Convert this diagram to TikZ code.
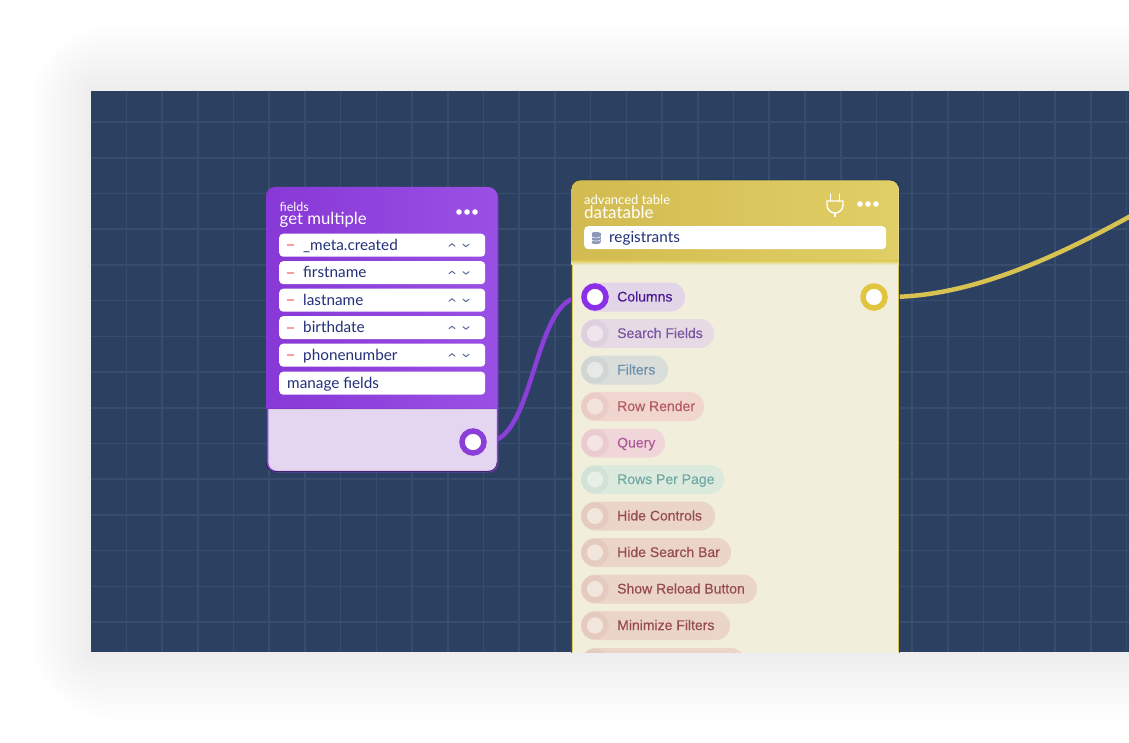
\documentclass[tikz,border=0pt]{standalone}
\usepackage{fontspec}
\setmainfont{Lato}
\newfontfamily\pillfont[FakeBold=0.3]{Liberation Sans}
\pgfdeclarelayer{panelbg}
\pgfdeclarelayer{links}
\pgfsetlayers{panelbg,links,main}
\definecolor{panelblue}{HTML}{2C4161}
\definecolor{gridblue}{HTML}{384D6E}
\definecolor{purpleA}{HTML}{8838D6}
\definecolor{purpleB}{HTML}{9A50E4}
\definecolor{purpleLine}{HTML}{8A3FD8}
\definecolor{lavender}{HTML}{E4D6F1}
\definecolor{yellowA}{HTML}{D2BB50}
\definecolor{yellowB}{HTML}{E0CF66}
\definecolor{yellowLine}{HTML}{D8C252}
\definecolor{yellowPort}{HTML}{E2C53F}
\definecolor{cream}{HTML}{F2EEDC}
\definecolor{navytext}{HTML}{233078}
\definecolor{minusred}{HTML}{F7A0A0}
\definecolor{caretblue}{HTML}{5A6A9A}
\definecolor{columnsring}{HTML}{8B2FE8}
\definecolor{columnspill}{HTML}{E3D5E8}
\definecolor{columnstext}{HTML}{4A1A96}
\tikzset{
  x=1pt,y=-1pt,
  fieldbox/.style={fill=white,rounded corners=4pt,anchor=north west,inner sep=0pt,minimum height=23pt},
  fieldtext/.style={anchor=west,inner sep=0pt,text=navytext,text height=10.5pt,text depth=3.5pt,yshift=-1.5pt,font=\fontsize{15.3}{17}\selectfont},
  pilltext/.style={anchor=west,inner sep=0pt,text height=10pt,text depth=3pt,yshift=-1pt,font=\pillfont\fontsize{14}{16}\selectfont},
  whitetext/.style={anchor=west,inner sep=0pt,text=white},
  portring/.style={circle,inner sep=0pt,minimum size=22pt,fill=white,line width=5.5pt},
  link/.style={line width=4.5pt,line cap=round},
  tinyline/.style={line width=1pt,line cap=round,line join=round},
}
\newcommand{\fieldrow}[3]{%
  \node[fieldbox,minimum width=206pt] (#1) at (279,#2) {};
  \draw[minusred,line width=1.8pt] ([xshift=7.5pt]#1.west) -- ([xshift=15pt]#1.west);
  \node[fieldtext] at ([xshift=24pt]#1.west) {#3};
  \draw[tinyline,caretblue] ([xshift=170pt,yshift=-1pt]#1.west) -- ([xshift=173pt,yshift=1.5pt]#1.west) -- ([xshift=176pt,yshift=-1pt]#1.west);
  \draw[tinyline,caretblue] ([xshift=184pt,yshift=1pt]#1.west) -- ([xshift=187pt,yshift=-1.5pt]#1.west) -- ([xshift=190pt,yshift=1pt]#1.west);
}
% name, y, right end, pill, text, ring, centre, label
\newcommand{\pillrow}[8]{%
  \definecolor{pillc}{HTML}{#4}\definecolor{textc}{HTML}{#5}\definecolor{ringc}{HTML}{#6}\definecolor{centc}{HTML}{#7}%
  \path[fill=pillc,rounded corners=14pt] (581,#2-14.5) rectangle (#3,#2+14.5);
  \node[portring,fill=centc,draw=ringc] (#1) at (595,#2) {};
  \node[pilltext,text=textc] at (617,#2) {#8};
}
\begin{document}
\begin{tikzpicture}
\useasboundingbox (0,0) rectangle (1129,743);
\begin{pgfonlayer}{panelbg}
  \fill[white] (0,0) rectangle (1129,743);
  \foreach \i in {1,...,17}{
    \fill[black,opacity=.004,rounded corners=\i*5pt] (91-\i*3.6,91-\i*4) rectangle (1300,652+\i*4);
  }
  \fill[panelblue] (91,91) rectangle (1129,652);
  \begin{scope}
    \clip (91,91) rectangle (1129,652);
    \foreach \k in {0,...,28}{
      \draw[gridblue,line width=1.6pt] (126.3+\k*35.72,91) -- (126.3+\k*35.72,652);
    }
    \foreach \k in {0,...,14}{
      \draw[gridblue,line width=1.6pt] (91,122+\k*35.72) -- (1129,122+\k*35.72);
    }
  \end{scope}
\end{pgfonlayer}

\begin{scope}
\clip (91,91) rectangle (1129,652);
% fields card
\node[draw=purpleLine,fill=lavender,line width=1.5pt,rounded corners=9pt,anchor=north west,inner sep=0pt,minimum width=230pt,minimum height=283pt] (fieldscard) at (266.8,187.8) {};
\begin{scope}
  \clip[rounded corners=9pt] (266,187) rectangle (497,480);
  \shade[left color=purpleA,right color=purpleB] (266,187) rectangle (497,408);
  \fill[black,opacity=.05] (266,408) rectangle (497,410);
\end{scope}
\draw[black!70!panelblue,line width=.7pt,rounded corners=9pt,opacity=.6] (266,462) -- (266,471.5) -- (497,471.5) -- (497,462);
\node[whitetext,font=\fontsize{12.5}{14}\selectfont] (fieldskind) at (279.5,206.5) {fields};
\node[whitetext,font=\fontsize{16.7}{18}\selectfont] (fieldstitle) at (279.5,220) {get multiple};
\foreach \d in {-8,0,8}{\fill[white] (467+\d,212) circle (2.8pt);}
\fieldrow{rowa}{233.5}{\_meta.created}
\fieldrow{rowb}{261}{firstname}
\fieldrow{rowc}{288.5}{lastname}
\fieldrow{rowd}{316}{birthdate}
\fieldrow{rowe}{343.5}{phonenumber}
\node[fieldbox,minimum width=206pt] (manage) at (279,371.5) {};
\node[fieldtext] at ([xshift=8pt]manage.west) {manage fields};
\node[portring,draw=purpleLine] (fieldsout) at (473,442) {};

% datatable card
\node[draw=black!60!panelblue,fill=cream,line width=.7pt,rounded corners=9pt,anchor=north west,inner sep=0pt,minimum width=328pt,minimum height=520pt] (tablecard) at (571,180) {};
\begin{scope}
  \clip[rounded corners=9pt] (571.4,180.4) rectangle (898.6,300);
  \shade[left color=yellowA,right color=yellowB] (571,180) rectangle (899,263);
  \shade[top color=yellowB,bottom color=cream] (571,261) rectangle (899,265);
\end{scope}
\draw[yellowLine,line width=.8pt] (572,265) -- (572,652) (898,265) -- (898,652);
\node[whitetext,font=\fontsize{13}{14}\selectfont] (tablekind) at (584,199.5) {advanced table};
\node[whitetext,font=\fontsize{17}{18}\selectfont] (tabletitle) at (584,212) {datatable};
% plug icon
\begin{scope}[white,line width=1.4pt,line cap=round,line join=round]
  \draw (830.5,194) -- (830.5,201) (839.5,194) -- (839.5,201);
  \draw (827,201) -- (843,201) -- (843,205) arc[start angle=0,end angle=-180,radius=8pt] -- cycle;
  \draw (835,213) -- (835,216.5);
\end{scope}
\foreach \d in {-8,0,8}{\fill[white] (868+\d,204) circle (2.8pt);}
\node[fieldbox,minimum width=302pt] (source) at (584,226) {};
\fill[caretblue!70!white] (591.5,233.5) rectangle (600.5,242.5);
\fill[caretblue!70!white] (596,233.5) ellipse [x radius=4.5pt,y radius=1.6pt];
\fill[caretblue!70!white] (596,242.5) ellipse [x radius=4.5pt,y radius=1.6pt];
\draw[white,line width=.5pt] (591.5,236.5) arc[start angle=180,end angle=360,x radius=4.5pt,y radius=1.4pt];
\draw[white,line width=.5pt] (591.5,239.7) arc[start angle=180,end angle=360,x radius=4.5pt,y radius=1.4pt];
\node[fieldtext] at (609,237.5) {registrants};

\path[fill=columnspill,rounded corners=14pt] (581,282.5) rectangle (685,311.5);
\node[portring,draw=columnsring] (columnsport) at (595,297) {};
\node[pilltext,text=columnstext] at (617,297) {Columns};
\pillrow{searchport}{333.5}{714}{E6DAE5}{7A55A0}{DFD0DF}{EEE6EC}{Search Fields}
\pillrow{filtersport}{370}{668}{D9DEDB}{6B90AE}{CFD6D4}{E6E9E6}{Filters}
\pillrow{renderport}{406.5}{704}{F0D6CF}{B55A63}{EACBC5}{F3E3DC}{Row Render}
\pillrow{queryport}{443}{665}{F0D6D8}{AE5A9C}{EACBD0}{F4E4E2}{Query}
\pillrow{rowsport}{479.5}{724}{DCE9DD}{6FAAA6}{D2E2D6}{E8EFE4}{Rows Per Page}
\pillrow{hideport}{516}{715}{EBD5C9}{964B4C}{E4CABF}{F2E6DC}{Hide Controls}
\pillrow{barport}{552.5}{731}{EBD5C9}{964B4C}{E4CABF}{F2E6DC}{Hide Search Bar}
\pillrow{reloadport}{589}{757}{EBD5C9}{964B4C}{E4CABF}{F2E6DC}{Show Reload Button}
\pillrow{minimizeport}{625.5}{730}{EBD5C9}{964B4C}{E4CABF}{F2E6DC}{Minimize Filters}
\pillrow{lastport}{662.5}{745}{EBD5C9}{964B4C}{E4CABF}{F2E6DC}{}
\node[portring,draw=yellowPort] (tableout) at (874,297) {};
\end{scope}

\coordinate (freeend) at (1574,25);
\begin{pgfonlayer}{links}
  \clip (91,91) rectangle (1129,652);
  \draw[link,purpleLine] (fieldsout) .. controls +(62,0) and +(-62,0) .. (columnsport);
  \draw[link,yellowLine] (tableout) .. controls +(233,0) and +(-233,0) .. (freeend);
\end{pgfonlayer}
\end{tikzpicture}
\end{document}
